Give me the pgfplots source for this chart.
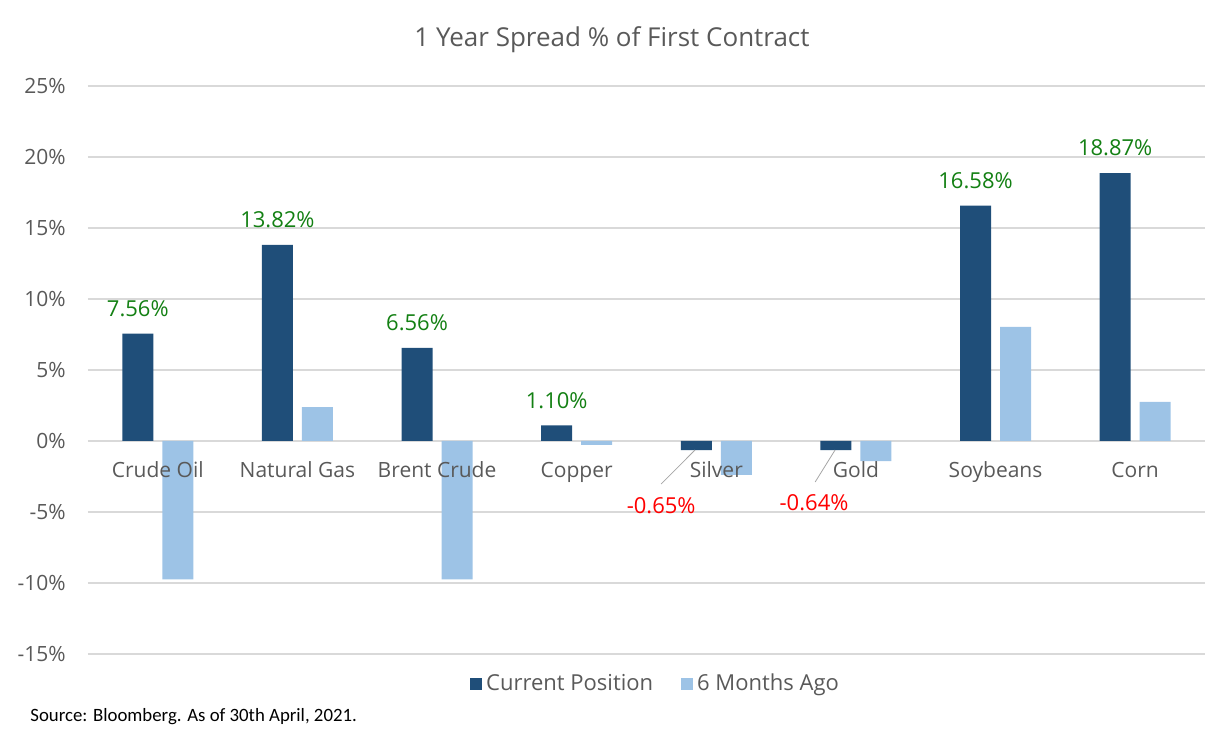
\documentclass[border=0pt]{standalone}
\usepackage{pgfplots}
\pgfplotsset{compat=1.18}
\usepackage{fontspec}
\setmainfont{Open Sans}
\newfontfamily\srcfont{Carlito}

\definecolor{darkbar}{HTML}{1F4E79}
\definecolor{lightbar}{HTML}{9DC3E6}
\definecolor{txt}{HTML}{595959}
\definecolor{gridc}{HTML}{D9D9D9}
\definecolor{posgreen}{HTML}{138013}
\definecolor{negred}{HTML}{FF0000}

\newcommand{\lbl}{\fontsize{10.5bp}{12bp}\selectfont}
\newcommand{\vlbl}{\fontsize{11bp}{13bp}\selectfont}
\pgfplotsset{sqlegend/.style={legend image code/.code={\fill[##1] (-1.5bp,-3bp) rectangle (4.5bp,3bp);}}}
\tikzset{cat/.style={font=\lbl, text=txt, anchor=base, yshift=-18.5bp}}

\begin{document}
\begin{tikzpicture}
\useasboundingbox (-44bp,-48bp) rectangle (569bp,327bp);
\begin{axis}[
    scale only axis,
    width=558.5bp, height=284bp,
    ybar=4.5bp, bar width=15.5bp,
    xmin=-0.5, xmax=7.5,
    ymin=-15, ymax=25,
    axis line style={draw=none},
    xtick=\empty,
    ytick={-15,-10,...,25},
    yticklabels={-15\%,-10\%,-5\%,0\%,5\%,10\%,15\%,20\%,25\%},
    major tick length=0pt,
    yticklabel style={font=\lbl, text=txt, inner sep=0pt, xshift=-11bp},
    ymajorgrids=true,
    grid style={gridc, line width=0.6bp},
    legend style={at={(0.509,-0.053)}, anchor=center, draw=none, fill=none,
        legend columns=2, font=\vlbl, text=txt, inner sep=0pt,
        /tikz/every even column/.append style={column sep=12bp}},
    clip=false,
]
\addplot[fill=darkbar, draw=none, sqlegend]
    coordinates {(0,7.56) (1,13.82) (2,6.56) (3,1.10) (4,-0.65) (5,-0.64) (6,16.58) (7,18.87)};
\addplot[fill=lightbar, draw=none, sqlegend]
    coordinates {(0,-9.74) (1,2.39) (2,-9.74) (3,-0.28) (4,-2.39) (5,-1.41) (6,8.03) (7,2.75)};
\legend{Current Position, 6 Months Ago}

% category names sit just under the zero line
\node[cat] at (axis cs:0,0) {Crude Oil};
\node[cat] at (axis cs:1,0) {Natural Gas};
\node[cat] at (axis cs:2,0) {Brent Crude};
\node[cat] at (axis cs:3,0) {Copper};
\node[cat] at (axis cs:4,0) {Silver};
\node[cat] at (axis cs:5,0) {Gold};
\node[cat] at (axis cs:6,0) {Soybeans};
\node[cat] at (axis cs:7,0) {Corn};

% value labels
\node[font=\vlbl, text=posgreen, xshift=-10bp, yshift=12.5bp] at (axis cs:0,7.56) {7.56\%};
\node[font=\vlbl, text=posgreen, xshift=-10bp, yshift=12.5bp] at (axis cs:1,13.82) {13.82\%};
\node[font=\vlbl, text=posgreen, xshift=-10bp, yshift=12.5bp] at (axis cs:2,6.56) {6.56\%};
\node[font=\vlbl, text=posgreen, xshift=-10bp, yshift=12.5bp] at (axis cs:3,1.10) {1.10\%};
\node[font=\vlbl, text=posgreen, xshift=-10bp, yshift=12.5bp] at (axis cs:6,16.58) {16.58\%};
\node[font=\vlbl, text=posgreen, xshift=-10bp, yshift=12.5bp] at (axis cs:7,18.87) {18.87\%};

\draw[gray!70, line width=0.4bp] (axis cs:3.848,-0.63) -- (axis cs:3.605,-3.03);
\draw[gray!70, line width=0.4bp] (axis cs:4.851,-0.63) -- (axis cs:4.708,-2.89);
\node[font=\vlbl, text=negred] at (axis cs:3.605,-4.58) {-0.65\%};
\node[font=\vlbl, text=negred] at (axis cs:4.70,-4.37) {-0.64\%};
\end{axis}

\node[font=\fontsize{13bp}{15bp}\selectfont, text=txt] at (262bp,307bp) {1 Year Spread \% of First Contract};
\node[font=\srcfont\fontsize{9.4bp}{11bp}\selectfont, anchor=west, inner sep=0pt] at (-29bp,-31.5bp) {Source: Bloomberg. As of 30th April, 2021.};
\end{tikzpicture}
\end{document}
